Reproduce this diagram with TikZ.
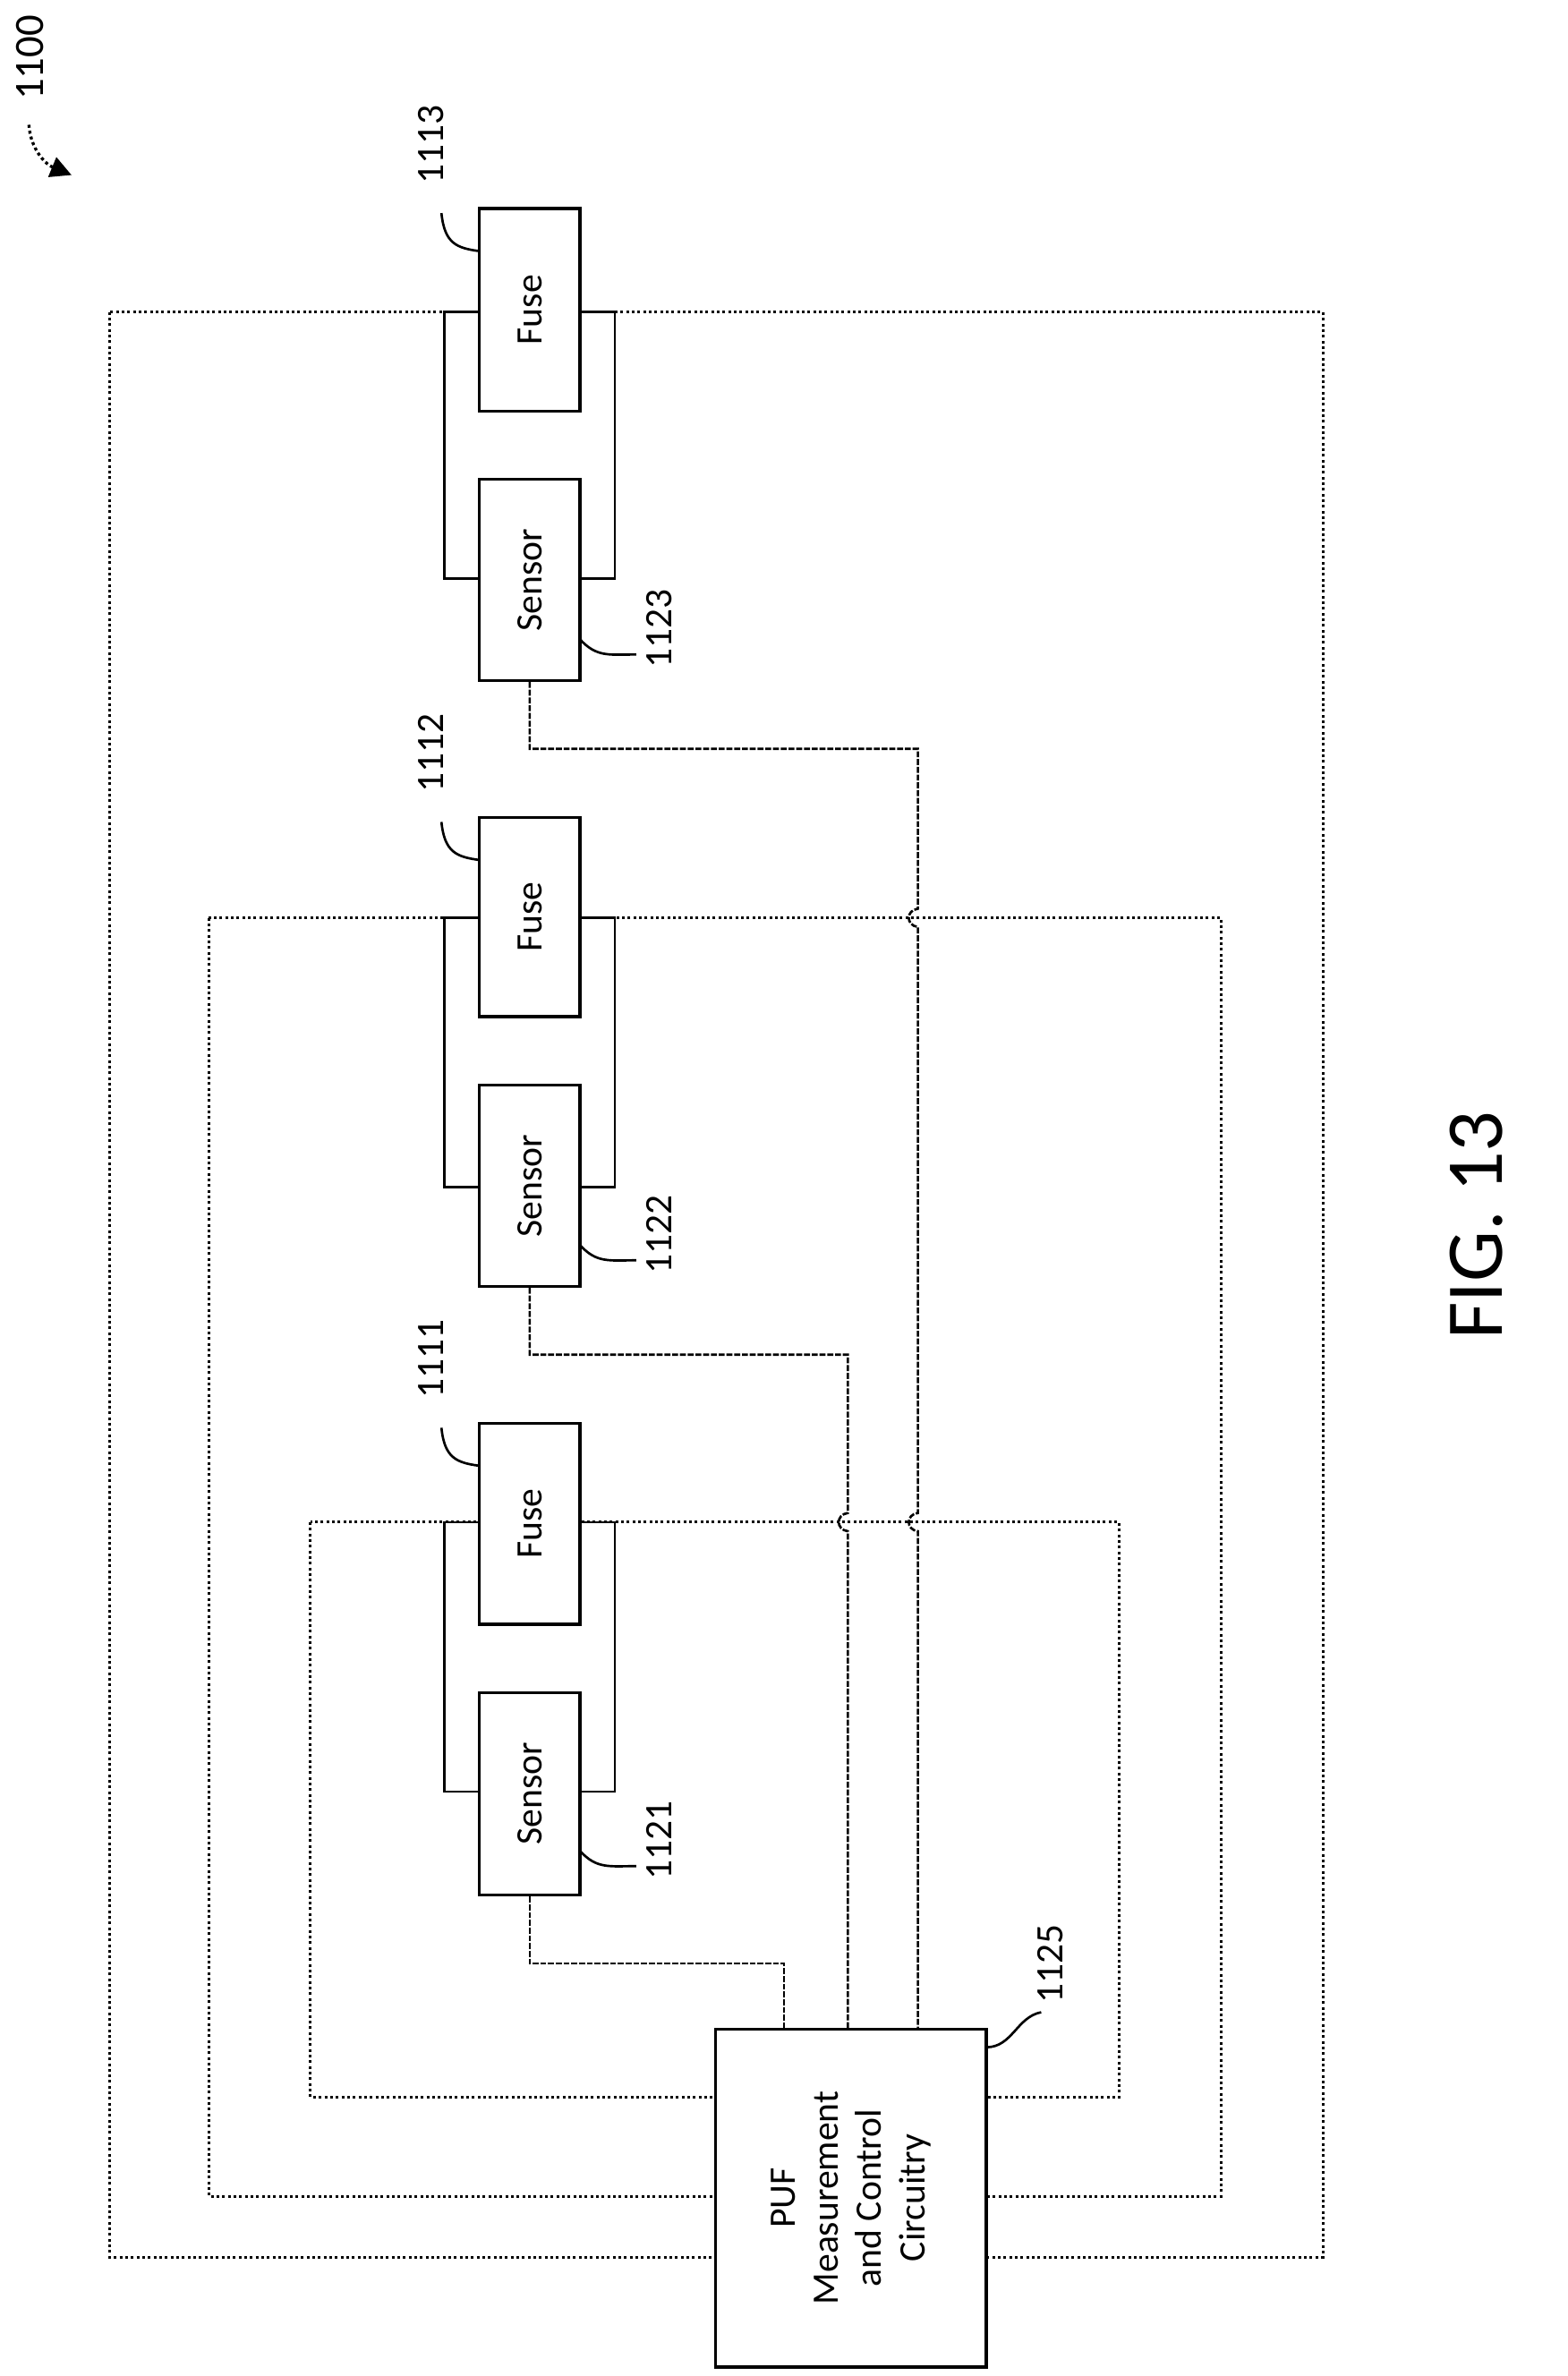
\documentclass[tikz,border=0pt]{standalone}
\usepackage{fontspec}
\setmainfont{Carlito}
\usetikzlibrary{arrows.meta}
\begin{document}
\begin{tikzpicture}[x=0.5103pt,y=-0.5103pt,
  box/.style={draw,line width=1pt,fill=white},
  dotl/.style={densely dotted,line width=0.9pt},
  sig/.style={line width=0.8pt,dash pattern=on 2pt off 0.6pt},
  loop/.style={line width=0.8pt},
  lab/.style={rotate=90,font=\fontsize{13}{15}\selectfont},
  lead/.style={line width=0.8pt}]
\useasboundingbox (0,0) rectangle (1030,1561);
% dotted rectangles
\draw[dotl] (72,205) rectangle (869,1483);
\draw[dotl] (137,603) rectangle (802,1443);
\draw[dotl] (204,1000) rectangle (735,1378);
% fuse-sensor loops
\foreach \t/\b in {205/380,603/780,1000/1177}{
  \draw[loop] (315,\b) -- (292,\b) -- (292,\t) -- (315,\t);
  \draw[loop] (381,\b) -- (404,\b) -- (404,\t) -- (381,\t);
}
% boxes
\node[box,minimum width=33.7pt,minimum height=67.9pt] (f3) at (348,203.5) {};
\node[rotate=90,font=\fontsize{12.5}{14}\selectfont] at (f3) {Fuse};
\node[box,minimum width=33.7pt,minimum height=67.4pt] (s3) at (348,381) {};
\node[rotate=90,font=\fontsize{12.5}{14}\selectfont] at (s3) {Sensor};
\node[box,minimum width=33.7pt,minimum height=66.8pt] (f2) at (348,602.5) {};
\node[rotate=90,font=\fontsize{12.5}{14}\selectfont] at (f2) {Fuse};
\node[box,minimum width=33.7pt,minimum height=67.4pt] (s2) at (348,779) {};
\node[rotate=90,font=\fontsize{12.5}{14}\selectfont] at (s2) {Sensor};
\node[box,minimum width=33.7pt,minimum height=67.4pt] (f1) at (348,1001) {};
\node[rotate=90,font=\fontsize{12.5}{14}\selectfont] at (f1) {Fuse};
\node[box,minimum width=33.7pt,minimum height=67.9pt] (s1) at (348,1178.5) {};
\node[rotate=90,font=\fontsize{12.5}{14}\selectfont] at (s1) {Sensor};
\node[box,minimum width=90.8pt,minimum height=113.3pt] (puf) at (559,1444) {};
\node[rotate=90,font=\fontsize{12.5}{14.5}\selectfont,align=center] at (puf) {PUF\\Measurement\\and Control\\Circuitry};
% signal lines with hops
\coordinate (p3) at (603,1333);
\coordinate (p2) at (557,1333);
\coordinate (p1) at (515,1333);
\draw[sig] (s3.south) -- (348,492) -- (603,492) -- (603,597)
  .. controls (595,598) and (595,608) .. (603,609) -- (603,994)
  .. controls (595,995) and (595,1005) .. (603,1006) -- (p3);
\draw[sig] (s2.south) -- (348,890) -- (557,890) -- (557,994)
  .. controls (549,995) and (549,1005) .. (557,1006) -- (p2);
\draw[sig] (s1.south) -- (348,1290) -- (515,1290) -- (p1);
% labels
\node[lab] (l1113) at (283,95) {1113};
\draw[lead] (290,140) .. controls (292,160) and (300,163) .. (315,165);
\node[lab] (l1123) at (433,413) {1123};
\draw[lead] (381,420) .. controls (392,432) and (400,430) .. (418,430);
\node[lab] (l1112) at (283,495) {1112};
\draw[lead] (290,540) .. controls (292,560) and (300,563) .. (315,565);
\node[lab] (l1122) at (433,811) {1122};
\draw[lead] (381,818) .. controls (392,830) and (400,828) .. (418,828);
\node[lab] (l1111) at (283,893) {1111};
\draw[lead] (290,938) .. controls (292,958) and (300,961) .. (315,963);
\node[lab] (l1121) at (433,1209) {1121};
\draw[lead] (381,1216) .. controls (392,1228) and (400,1226) .. (418,1226);
\node[lab] (l1125) at (690,1290) {1125};
\draw[lead] (648,1345) .. controls (665,1345) and (668,1325) .. (684,1322);
\node[lab,font=\fontsize{14}{16}\selectfont] (l1100) at (20,38) {1100};
\coordinate (a0) at (19,82);
\coordinate (a1) at (47,115);
\draw[densely dotted,line width=1pt,-{Triangle[length=7pt,width=7pt]}] (a0) .. controls (20,98) and (30,108) .. (a1);
\node[rotate=90,font=\fontsize{27}{30}\selectfont] (fig) at (970,805) {FIG. 13};
\end{tikzpicture}
\end{document}
